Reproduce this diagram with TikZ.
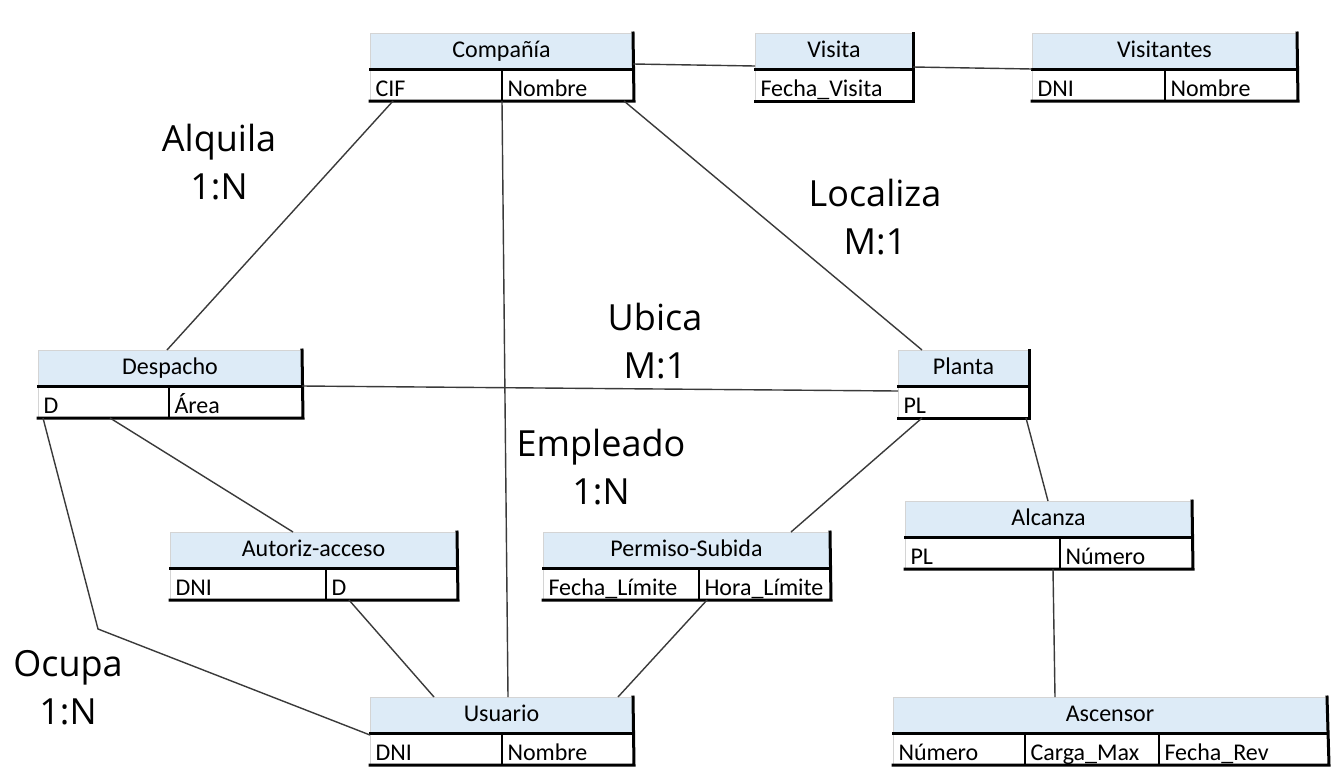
\documentclass[tikz,border=0pt]{standalone}
\usepackage{fontspec}
\newfontfamily\tabfont{Carlito}
\newfontfamily\relfont{Open Sans}
\usetikzlibrary{positioning}

\definecolor{hdrblue}{HTML}{DDEBF7}
\definecolor{edgegray}{HTML}{D4D4D4}
\definecolor{linkgray}{HTML}{3A3A3A}

% thick right/bottom edges of a table: header, last field, first field
\newcommand{\tblframe}[3]{%
  \draw[frame] (#1.north east) -- (#2.south east) -- (#3.south west);
  \draw[frame] (#1.south west) -- (#1.south east);}

\begin{document}
\begin{tikzpicture}[x=1pt,y=-1pt,
  hdr/.style={draw=edgegray,line width=1pt,fill=hdrblue,anchor=north west,
    inner sep=0pt,minimum width=#1,text height=24pt,text depth=11pt,
    font=\tabfont\fontsize{24}{28}\selectfont},
  fld/.style={draw=edgegray,line width=1pt,fill=white,inner xsep=5pt,
    inner ysep=0pt,text width=#1,align=left,text height=27pt,text depth=4pt,
    font=\tabfont\fontsize{24}{28}\selectfont},
  frame/.style={line width=3pt,line cap=rect,black},
  divline/.style={line width=1.6pt,black},
  link/.style={line width=1.4pt,linkgray},
  rel/.style={font=\relfont\fontsize{36}{48}\selectfont,align=center,inner sep=0pt}]

  \useasboundingbox[fill=white] (0,0) rectangle (1344,780);

  % Compañía
  \node[hdr=262] (cia) at (370,33) {Compañía};
  \node[fld=121,below right=0 of cia.south west] (ciaA) {CIF};
  \node[fld=121,right=0 of ciaA] (ciaB) {Nombre};
  \draw[divline] (ciaA.north east) -- (ciaA.south east);
  \tblframe{cia}{ciaB}{ciaA}

  % Visita
  \node[hdr=157] (vis) at (755,33) {Visita};
  \node[fld=147,below right=0 of vis.south west] (visA) {Fecha\_Visita};
  \tblframe{vis}{visA}{visA}

  % Visitantes
  \node[hdr=264] (vtes) at (1032,33) {Visitantes};
  \node[fld=122,below right=0 of vtes.south west] (vtesA) {DNI};
  \node[fld=122,right=0 of vtesA] (vtesB) {Nombre};
  \draw[divline] (vtesA.north east) -- (vtesA.south east);
  \tblframe{vtes}{vtesB}{vtesA}

  % Despacho
  \node[hdr=263] (desp) at (38,350) {Despacho};
  \node[fld=120,below right=0 of desp.south west] (despA) {D};
  \node[fld=123,right=0 of despA] (despB) {Área};
  \draw[divline] (despA.north east) -- (despA.south east);
  \tblframe{desp}{despB}{despA}

  % Planta
  \node[hdr=130] (pla) at (898,350) {Planta};
  \node[fld=120,below right=0 of pla.south west] (plaA) {PL};
  \tblframe{pla}{plaA}{plaA}

  % Alcanza
  \node[hdr=286] (alc) at (905,501) {Alcanza};
  \node[fld=144,below right=0 of alc.south west] (alcA) {PL};
  \node[fld=122,right=0 of alcA] (alcB) {Número};
  \draw[divline] (alcA.north east) -- (alcA.south east);
  \tblframe{alc}{alcB}{alcA}

  % Autoriz-acceso
  \node[hdr=286] (aut) at (170,532) {Autoriz-acceso};
  \node[fld=145,below right=0 of aut.south west] (autA) {DNI};
  \node[fld=121,right=0 of autA] (autB) {D};
  \draw[divline] (autA.north east) -- (autA.south east);
  \tblframe{aut}{autB}{autA}

  % Permiso-Subida
  \node[hdr=286] (perm) at (543,532) {Permiso-Subida};
  \node[fld=145,below right=0 of perm.south west] (permA) {Fecha\_Límite};
  \node[fld=121,right=0 of permA] (permB) {Hora\_Límite};
  \draw[divline] (permA.north east) -- (permA.south east);
  \tblframe{perm}{permB}{permA}

  % Usuario
  \node[hdr=262] (usu) at (370,697) {Usuario};
  \node[fld=121,below right=0 of usu.south west] (usuA) {DNI};
  \node[fld=121,right=0 of usuA] (usuB) {Nombre};
  \draw[divline] (usuA.north east) -- (usuA.south east);
  \tblframe{usu}{usuB}{usuA}

  % Ascensor
  \node[hdr=433] (asc) at (893,697) {Ascensor};
  \node[fld=121,below right=0 of asc.south west] (ascA) {Número};
  \node[fld=123,right=0 of ascA] (ascB) {Carga\_Max};
  \node[fld=159,right=0 of ascB] (ascC) {Fecha\_Rev};
  \draw[divline] (ascA.north east) -- (ascA.south east);
  \draw[divline] (ascB.north east) -- (ascB.south east);
  \tblframe{asc}{ascC}{ascA}

  % Links
  \draw[link] ([yshift=5pt]cia.south east) -- ([yshift=3pt]vis.south west);
  \draw[link] ([yshift=2pt]vis.south east) -- (vtes.south west);
  \draw[link] ([xshift=23pt]ciaA.south west) -- ([xshift=129pt]desp.north west);
  \draw[link] (ciaA.south east) -- ([xshift=138pt]usu.north west);
  \draw[link] ([xshift=-10pt]ciaB.south east) -- ([xshift=24pt]pla.north west);
  \draw[link] (desp.south east) -- ([yshift=-5pt]pla.south west);
  \draw[link] ([xshift=72pt]despA.south west) -- ([xshift=123pt]aut.north west);
  \coordinate (bend) at (98,629);
  \draw[link] ([xshift=5pt]despA.south west) -- (bend) -- ([yshift=-2pt]usu.south west);
  \draw[link] ([xshift=23pt]autB.south west) -- ([xshift=64pt]usu.north west);
  \draw[link] ([xshift=8pt]permB.south west) -- ([xshift=-15pt]usu.north east);
  \draw[link] ([xshift=24pt]plaA.south west) -- ([xshift=-39pt]perm.north east);
  \draw[link] ([xshift=-3pt]plaA.south east) -- ([xshift=143pt]alc.north west);
  \draw[link] ([xshift=-7pt]alcA.south east) -- ([xshift=162pt]asc.north west);

  % Relation labels
  \node[rel] (alquila) at (219,162) {Alquila\\1:N};
  \node[rel] (localiza) at (875,217) {Localiza\\M:1};
  \node[rel] (ubica) at (655,341) {Ubica\\M:1};
  \node[rel] (empleado) at (601,467) {Empleado\\1:N};
  \node[rel] (ocupa) at (68,688) {Ocupa\\1:N};
\end{tikzpicture}
\end{document}
